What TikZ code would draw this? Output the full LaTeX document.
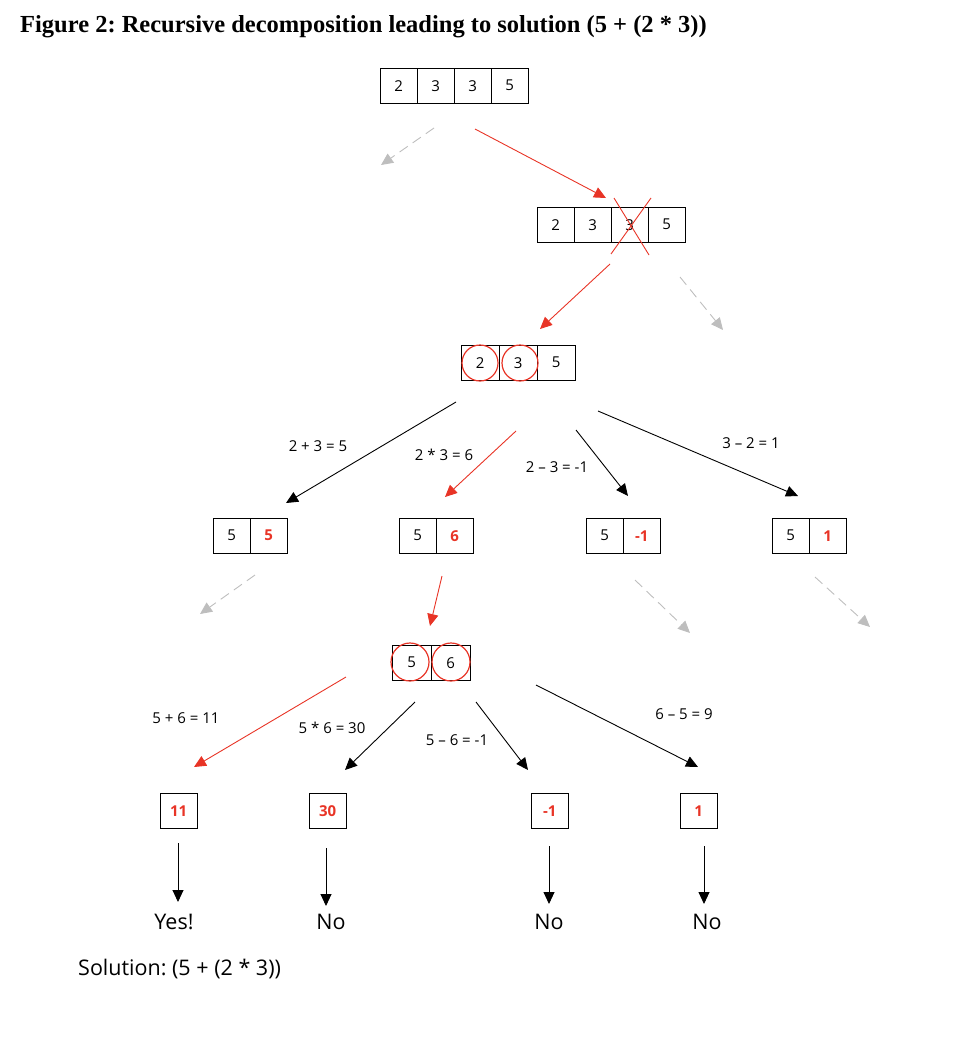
\documentclass[tikz,border=0pt]{standalone}
\usepackage{fontspec}
\setmainfont{Open Sans}
\newfontfamily\titlefont{Liberation Serif}
\usetikzlibrary{arrows.meta}
\definecolor{myred}{RGB}{232,52,38}
\definecolor{mygray}{RGB}{190,190,190}
\frenchspacing
\begin{document}
\begin{tikzpicture}[x=1pt,y=-1pt,
  cell/.style={draw,minimum width=37pt,minimum height=35pt,inner sep=0pt,font=\fontsize{15}{17}\selectfont,anchor=north west},
  redtxt/.style={text=myred,font=\fontsize{15}{17}\selectfont\bfseries},
  redarr/.style={draw=myred,-{Triangle[length=12pt,width=11pt]},line width=0.9pt},
  blkarr/.style={draw=black,-{Triangle[length=12pt,width=11pt]},line width=0.9pt},
  grayarr/.style={draw=mygray,dash pattern=on 10pt off 6pt,-{Triangle[length=12pt,width=11pt]},line width=0.9pt},
  lbl/.style={font=\fontsize{15}{17}\selectfont},
  big/.style={font=\fontsize{21.5}{24}\selectfont},
  circ/.style={draw=myred,line width=1.2pt,circle,minimum size=36pt,inner sep=0pt}]
\useasboundingbox (0,0) rectangle (978,1052);
\node[anchor=west,font=\titlefont\bfseries\fontsize{24.5}{28}\selectfont,inner sep=0pt] (title) at (20,27) {Figure 2: Recursive decomposition leading to solution (5 + (2 * 3))};
\foreach \t [count=\i] in {2,3,3,5} \node[cell] (a\i) at ({380+37*(\i-1)},68) {\t};
\foreach \t [count=\i] in {2,3,3,5} \node[cell] (b\i) at ({537+37*(\i-1)},207) {\t};
\foreach \t [count=\i] in {2,3,5} \node[cell,minimum width=38pt] (c\i) at ({461+38*(\i-1)},345) {\t};
\node[circ] (c1c) at (480,363) {};
\node[circ] (c2c) at (520,363) {};
\coordinate (x1) at (614,198); \coordinate (x2) at (649,255);
\coordinate (x3) at (651,198); \coordinate (x4) at (611,254);
\draw[myred,line width=0.9pt] (x1) -- (x2) (x3) -- (x4);
\node[cell] (p1a) at (213,518) {5}; \node[cell,redtxt] (p1b) at (250,518) {5};
\node[cell] (p2a) at (399,518) {5}; \node[cell,redtxt] (p2b) at (436,518) {6};
\node[cell] (p3a) at (586,518) {5}; \node[cell,redtxt] (p3b) at (623,518) {-1};
\node[cell] (p4a) at (772,518) {5}; \node[cell,redtxt] (p4b) at (809,518) {1};
\node[cell,minimum width=39pt] (d1) at (392,645) {5};
\node[cell,minimum width=39pt] (d2) at (431,645) {6};
\node[circ,minimum size=38pt] (d1c) at (410,662) {};
\node[circ,minimum size=38pt] (d2c) at (451,662) {};
\node[cell,redtxt] (s1) at (160,793) {11};
\node[cell,redtxt] (s2) at (309,793) {30};
\node[cell,redtxt] (s3) at (531,793) {-1};
\node[cell,redtxt] (s4) at (680,793) {1};
\foreach \n/\x/\y in {g1s/434/128,g1e/381/165,r1s/475/129,r1e/606/198,g2s/680/277,g2e/723/330,r2s/610/264,r2e/540/329,
  k1s/456/402,k1e/286/503,r3s/516/431,r3e/445/497,k2s/576/430,k2e/628/496,k3s/598/411,k3e/798/496,
  g3s/255/575,g3e/200/614,r4s/442/576,r4e/430/626,g4s/635/580,g4e/690/633,g5s/815/577,g5e/870/627,
  r5s/346/677,r5e/194/767,k4s/415/702,k4e/345/770,k5s/476/702,k5e/528/770,k6s/536/685,k6e/698/767,
  v1s/178/843,v1e/178/902,v2s/326/848,v2e/326/906,v3s/549/846,v3e/549/904,v4s/704/846,v4e/704/904}
  \coordinate (\n) at (\x,\y);
\draw[grayarr] (g1s) -- (g1e);
\draw[redarr] (r1s) -- (r1e);
\draw[grayarr] (g2s) -- (g2e);
\draw[redarr] (r2s) -- (r2e);
\draw[blkarr] (k1s) -- (k1e);
\draw[redarr] (r3s) -- (r3e);
\draw[blkarr] (k2s) -- (k2e);
\draw[blkarr] (k3s) -- (k3e);
\draw[grayarr] (g3s) -- (g3e);
\draw[redarr] (r4s) -- (r4e);
\draw[grayarr] (g4s) -- (g4e);
\draw[grayarr] (g5s) -- (g5e);
\draw[redarr] (r5s) -- (r5e);
\draw[blkarr] (k4s) -- (k4e);
\draw[blkarr] (k5s) -- (k5e);
\draw[blkarr] (k6s) -- (k6e);
\draw[blkarr] (v1s) -- (v1e);
\draw[blkarr] (v2s) -- (v2e);
\draw[blkarr] (v3s) -- (v3e);
\draw[blkarr] (v4s) -- (v4e);
\node[lbl] (l1) at (318,446) {2 + 3 = 5};
\node[lbl] (l2) at (444,455) {2 * 3 = 6};
\node[lbl] (l3) at (557,467) {2 – 3 = -1};
\node[lbl] (l4) at (751,443) {3 – 2 = 1};
\node[lbl] (l5) at (186,718) {5 + 6 = 11};
\node[lbl] (l6) at (332,728) {5 * 6 = 30};
\node[lbl] (l7) at (457,740) {5 – 6 = -1};
\node[lbl] (l8) at (684,714) {6 – 5 = 9};
\node[big] (o1) at (174,922) {Yes!};
\node[big] (o2) at (331,922) {No};
\node[big] (o3) at (549,922) {No};
\node[big] (o4) at (707,922) {No};
\node[big,anchor=west,inner sep=0pt] (sol) at (78,969) {Solution: (5 + (2 * 3))};
\end{tikzpicture}
\end{document}
